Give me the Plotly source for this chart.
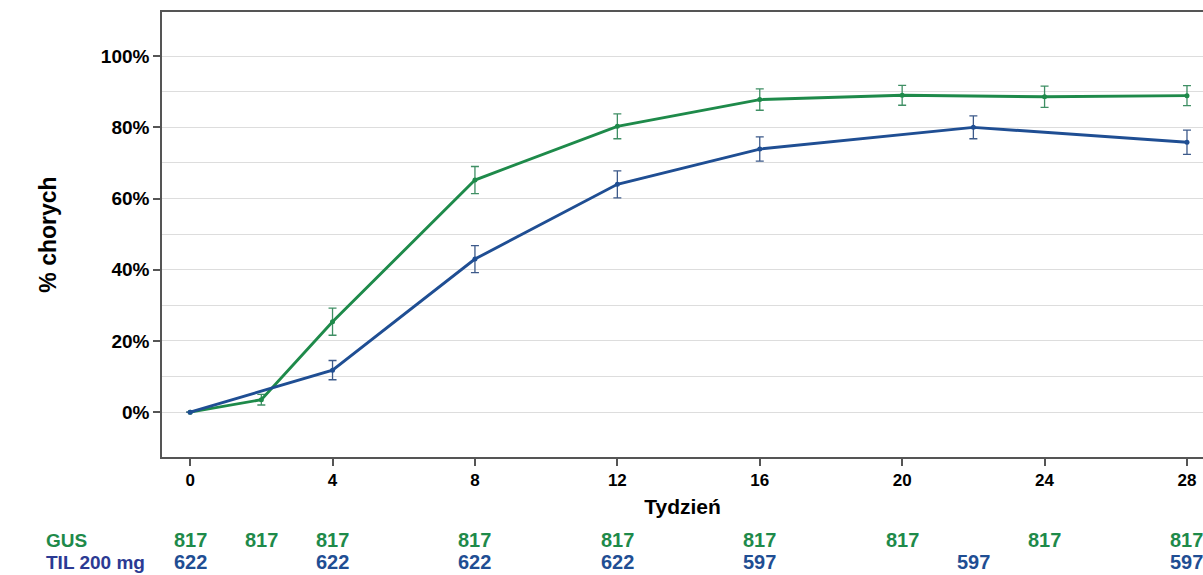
import plotly.graph_objects as go

# Weeks and percentages of patients, with error-bar half widths
gus_weeks = [0, 2, 4, 8, 12, 16, 20, 24, 28]
gus_pct = [0, 3.5, 25.4, 65.2, 80.3, 87.8, 89.0, 88.6, 88.9]
gus_err = [0, 1.5, 3.8, 3.8, 3.5, 3.0, 2.8, 3.0, 2.8]

til_weeks = [0, 4, 8, 12, 16, 22, 28]
til_pct = [0, 11.8, 43.0, 64.0, 73.9, 80.0, 75.8]
til_err = [0, 2.7, 3.8, 3.8, 3.4, 3.2, 3.4]

# Number of patients at each visit
gus_n_weeks = [0, 2, 4, 8, 12, 16, 20, 24, 28]
gus_n = [817, 817, 817, 817, 817, 817, 817, 817, 817]
til_n_weeks = [0, 4, 8, 12, 16, 22, 28]
til_n = [622, 622, 622, 622, 597, 597, 597]

x_ticks = [0, 4, 8, 12, 16, 20, 24, 28]
y_ticks = [0, 20, 40, 60, 80, 100]
y_tick_text = ["0%", "20%", "40%", "60%", "80%", "100%"]
y_minor = [10, 30, 50, 70, 90]

GREEN = "#1E8A4A"
BLUE = "#1F4E93"
FONT = "Liberation Sans, Arial, sans-serif"

W, H = 1203, 575
L, R, T, B = 162, 0, 12, 118
PW, PH = W - L - R, H - T - B

fig = go.Figure()

fig.add_trace(go.Scatter(
    x=gus_weeks, y=gus_pct, mode="lines+markers", name="GUS",
    line=dict(color=GREEN, width=2.9),
    marker=dict(color=GREEN, size=5),
    error_y=dict(type="data", array=gus_err, color="#3F8F64", thickness=1.3, width=4),
))
fig.add_trace(go.Scatter(
    x=til_weeks, y=til_pct, mode="lines+markers", name="TIL 200 mg",
    line=dict(color=BLUE, width=2.9),
    marker=dict(color=BLUE, size=5),
    error_y=dict(type="data", array=til_err, color="#3D5A8A", thickness=1.3, width=4),
))

def px_x(px):
    return (px - L) / PW

def px_y(py):
    return 1 - (py - T) / PH

# Patient-count rows beneath the axis
fig.add_annotation(x=px_x(44), y=px_y(540), xref="paper", yref="paper",
                   text="<b>GUS</b>", showarrow=False, xanchor="left", yanchor="middle",
                   font=dict(family=FONT, size=19, color=GREEN))
fig.add_annotation(x=px_x(44), y=px_y(562), xref="paper", yref="paper",
                   text="<b>TIL 200 mg</b>", showarrow=False, xanchor="left", yanchor="middle",
                   font=dict(family=FONT, size=19, color="#2B3A93"))
for wk, n in zip(gus_n_weeks, gus_n):
    fig.add_annotation(x=wk, y=px_y(540), xref="x", yref="paper", yanchor="middle",
                       text=f"<b>{n}</b>", showarrow=False,
                       font=dict(family=FONT, size=20, color=GREEN))
for wk, n in zip(til_n_weeks, til_n):
    fig.add_annotation(x=wk, y=px_y(562), xref="x", yref="paper", yanchor="middle",
                       text=f"<b>{n}</b>", showarrow=False,
                       font=dict(family=FONT, size=20, color=BLUE))

fig.update_layout(
    width=W, height=H,
    margin=dict(l=L, r=R, t=T, b=B),
    paper_bgcolor="white", plot_bgcolor="white",
    showlegend=False,
    font=dict(family=FONT, color="black"),
    xaxis=dict(
        range=[-0.79, 28.45], tickvals=x_ticks,
        ticktext=[f"<b>{v}</b>" for v in x_ticks],
        tickfont=dict(size=17, family=FONT, color="black"),
        showgrid=False, zeroline=False,
        showline=True, linecolor="#555555", linewidth=1.5, mirror=True,
        ticks="outside", ticklen=7, tickcolor="#555555", tickwidth=1.5,
        title=dict(text="<b>Tydzień</b>", font=dict(size=21, family=FONT, color="black"),
                   standoff=10),
    ),
    yaxis=dict(
        range=[-12.6, 112.4], tickvals=y_ticks,
        ticktext=[f"<b>{t}</b>" for t in y_tick_text],
        tickfont=dict(size=19, family=FONT, color="black"),
        showgrid=True, gridcolor="#DDDDDD", gridwidth=1,
        minor=dict(tickvals=y_minor, showgrid=True, gridcolor="#DDDDDD", gridwidth=1),
        zeroline=False,
        showline=True, linecolor="#555555", linewidth=1.5,
        ticks="outside", ticklen=7, tickcolor="#555555", tickwidth=1.5,
        title=dict(text="<b>% chorych</b>", font=dict(size=23, family=FONT, color="black"),
                   standoff=38),
    ),
)

fig.write_html("out.html")
